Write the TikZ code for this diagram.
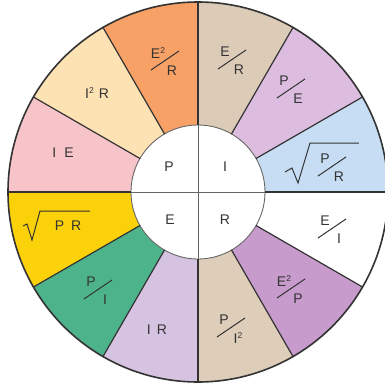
\documentclass[tikz,border=0pt]{standalone}
\usepackage{fontspec}
\setmainfont{Liberation Sans}
\definecolor{txt}{HTML}{333333}
\definecolor{edgec}{HTML}{333333}
\definecolor{cBlue}{HTML}{C6DDF4}
\definecolor{cLav}{HTML}{DCBDE0}
\definecolor{cTanA}{HTML}{DBCBB7}
\definecolor{cOrange}{HTML}{F7A166}
\definecolor{cPeach}{HTML}{FDE2B4}
\definecolor{cPink}{HTML}{F7C5C9}
\definecolor{cYellow}{HTML}{FBD20A}
\definecolor{cGreen}{HTML}{4DB38B}
\definecolor{cLPurp}{HTML}{D6C2E1}
\definecolor{cTanB}{HTML}{DDCDB9}
\definecolor{cPurp}{HTML}{C79BCC}
\newcommand\sqr{\raisebox{5pt}{\fontsize{8.5}{9}\selectfont 2}}
\newcommand\frc[4]{%
  \begin{scope}[shift={(#2)}]
    \node[lab] (#1n) at (-7,9) {#3};
    \node[lab] (#1d) at (7,-9) {#4};
    \draw[slash] (-14,-8) -- (14,11);
  \end{scope}}
\begin{document}
\begin{tikzpicture}[x=1pt,y=1pt,
  lab/.style={text=txt, inner sep=0pt, font=\fontsize{14}{14}\selectfont},
  slash/.style={draw=txt, line width=1pt, line join=miter},
  edge/.style={draw=edgec, line width=1.2pt},
  inner/.style={draw=black!60, line width=0.9pt}]
\useasboundingbox (-198,-194) rectangle (186,192);
\fill[white] (-198,-194) rectangle (186,192);
\coordinate (O) at (0,0);
\foreach \a/\c in {0/cBlue,30/cLav,60/cTanA,90/cOrange,120/cPeach,150/cPink,
                   180/cYellow,210/cGreen,240/cLPurp,270/cTanB,300/cPurp,330/white}{
  \fill[\c] (\a:67) -- (\a:190) arc[start angle=\a, end angle=\a+30, radius=190]
     -- ({\a+30}:67) arc[start angle=\a+30, end angle=\a, radius=67] -- cycle;
}
\fill[white] (O) circle[radius=67];
\draw[inner] (-67,0) -- (67,0);
\draw[inner] (0,-67) -- (0,67);
\draw[inner] (O) circle[radius=67];
\foreach \a in {0,30,...,330}{
  \draw[edge] (\a:67) -- (\a:190);
}
\draw[edgec, line width=1.6pt] (O) circle[radius=190];
% inner letters
\node[lab] (p) at (-29,25) {P};
\node[lab] (i) at (27,25) {I};
\node[lab] (e) at (-28,-28) {E};
\node[lab] (r) at (27,-28) {R};
% outer labels
\frc{er2}{-33,130}{E\sqr}{R}
\node[lab] (i2r) at (-101,99) {I\sqr\hspace{5pt}R};
\node[lab] (ie) at (-135,39) {I\hspace{8pt}E};
\frc{er}{34,131}{E}{R}
\frc{pe}{93,102}{P}{E}
\frc{pr}{134,24}{P}{R}
\draw[slash] (87,20) -- (94,24) -- (100,9) -- (112,49) -- (161,49);
\frc{ei}{134,-38}{E}{I}
\frc{e2p}{93,-98}{E\sqr}{P}
\frc{pi2}{33,-137}{P}{I\sqr}
\node[lab] (ir) at (-41,-138) {I\hspace{6pt}R};
\frc{pi}{-100,-99}{P}{I}
\node[lab] (prr) at (-130,-34) {P\hspace{7pt}R};
\draw[slash] (-175,-34) -- (-171,-32) -- (-166,-48) -- (-158,-19) -- (-108,-19);
\end{tikzpicture}
\end{document}
